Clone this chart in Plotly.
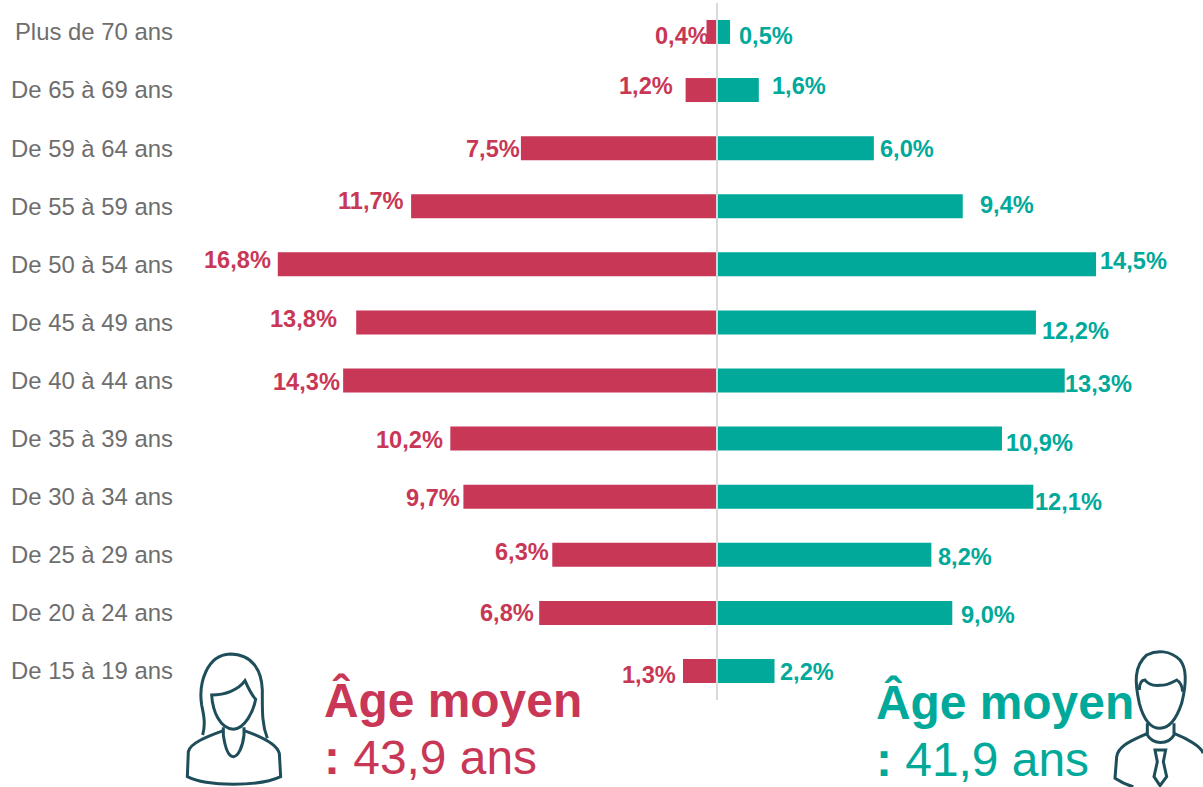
import re
import plotly.graph_objects as go

W, H = 1203, 787
LEFT = 180
age_groups = ["De 15 à 19 ans", "De 20 à 24 ans", "De 25 à 29 ans", "De 30 à 34 ans", "De 35 à 39 ans",
              "De 40 à 44 ans", "De 45 à 49 ans", "De 50 à 54 ans", "De 55 à 59 ans", "De 59 à 64 ans",
              "De 65 à 69 ans", "Plus de 70 ans"]
women = [1.3, 6.8, 6.3, 9.7, 10.2, 14.3, 13.8, 16.8, 11.7, 7.5, 1.2, 0.4]
men = [2.2, 9.0, 8.2, 12.1, 10.9, 13.3, 12.2, 14.5, 9.4, 6.0, 1.6, 0.5]

# hand placement of the value labels in the source (pixels from the bar end)
women_dx = [-6, -4, -2, -2, -6, -2, -18, -6, -6, 0, -12, 3]
women_dy = [-4, 0, 3, -1, -1, -1, 3, 4, 5, -1, 4, -4]
men_dx = [4, 8, 6, 1, 3, -1, 5, 3, 16, 5, 12, 8]
men_dy = [-1, -2, -2, -5, -4, -3, -9, 3, 1, -1, 4, -4]

ROSE, TEAL, GREY, ICON = "#C93756", "#00A99A", "#6E6E6E", "#1F4E5B"
FONT = "Liberation Sans, Arial, sans-serif"


def fr(v):
    return f"{v:.1f}%".replace(".", ",")


def px(x):
    """Picture pixel -> paper x (paper spans the plot area only)."""
    return (x - LEFT) / (W - LEFT)


def path(d, ox, oy):
    """Zoomed-crop coordinates of a decorative icon -> paper coordinates."""
    toks = re.findall(r"[MLCZ]|-?\d+\.?\d*", d)
    out, isx = [], True
    for t in toks:
        if t in "MLCZ":
            out.append(t)
            isx = True
        else:
            v = float(t) / 3
            out.append(f"{px(ox + v):.5f}" if isx else f"{1 - (oy + v) / H:.5f}")
            isx = not isx
    return " ".join(out)


woman_icon = [
    "M 98 285 C 108 250 100 220 95 195 C 85 130 110 45 180 42 C 250 42 275 95 277 150 C 277 210 275 250 292 295",
    "M 125 165 C 165 165 205 150 225 122 C 235 145 245 165 257 178 C 250 215 225 265 190 268 C 150 265 128 215 125 165 Z",
    "M 160 262 L 160 285 C 165 320 175 350 190 350 C 205 350 218 320 222 285 L 222 262",
    "M 160 272 C 110 290 60 310 55 335 L 52 410 C 110 440 270 440 332 410 L 328 340 C 320 310 260 285 222 272",
]
man_icon = [
    "M 838 190 C 825 130 820 80 860 45 C 890 30 930 30 960 60 C 985 90 975 150 965 190 C 950 235 930 265 900 265 C 870 265 850 235 838 190 Z",
    "M 838 150 C 838 130 845 120 855 120 C 865 135 880 138 900 136 C 925 136 940 125 950 120 C 960 125 968 140 968 155",
    "M 862 250 L 862 285 C 880 315 925 315 942 285 L 942 250",
    "M 862 280 C 820 300 775 315 770 350 L 765 415 C 780 425 800 435 820 440",
    "M 942 280 C 980 295 1025 320 1029 340",
    "M 885 330 L 917 330 L 910 365 L 920 410 L 900 437 L 882 410 L 892 365 Z",
]

fig = go.Figure()
fig.add_bar(y=age_groups, x=[-v for v in women], orientation="h", marker=dict(color=ROSE, line_width=0),
            width=0.413, hoverinfo="skip")
fig.add_bar(y=age_groups, x=men, orientation="h", marker=dict(color=TEAL, line_width=0),
            width=0.413, hoverinfo="skip")

ann = []
for g, v, dx, dy in zip(age_groups, women, women_dx, women_dy):
    ann.append(dict(x=-v, y=g, xref="x", yref="y", text=f"<b>{fr(v)}</b>", showarrow=False, xanchor="right",
                    xshift=dx, yshift=dy, borderpad=0, font=dict(family=FONT, size=23.6, color=ROSE)))
for g, v, dx, dy in zip(age_groups, men, men_dx, men_dy):
    ann.append(dict(x=v, y=g, xref="x", yref="y", text=f"<b>{fr(v)}</b>", showarrow=False, xanchor="left",
                    xshift=dx, yshift=dy, borderpad=0, font=dict(family=FONT, size=23.6, color=TEAL)))


def big(x_px, y_px, text, color):
    return dict(x=px(x_px), y=1 - y_px / H, xref="paper", yref="paper", text=text, showarrow=False,
                xanchor="left", yanchor="middle", borderpad=0, font=dict(family=FONT, size=47.9, color=color))


ann += [
    big(323, 700, "<b>Âge moyen</b>", ROSE),
    big(323, 757, "<b>:</b> 43,9 ans", ROSE),
    big(875, 702, "<b>Âge moyen</b>", TEAL),
    big(875, 759, "<b>:</b> 41,9 ans", TEAL),
]

shapes = [dict(type="line", xref="x", yref="y", x0=0, x1=0, y0=-0.5, y1=11.5,
               line=dict(color="#D9D9D9", width=2), layer="above")]
for d in woman_icon:
    shapes.append(dict(type="path", xref="paper", yref="paper", path=path(d, 170, 640),
                       line=dict(color=ICON, width=3)))
for d in man_icon:
    shapes.append(dict(type="path", xref="paper", yref="paper", path=path(d, 860, 640),
                       line=dict(color=ICON, width=3)))

fig.update_layout(
    width=W, height=H, margin=dict(l=LEFT, r=0, t=0, b=0), barmode="overlay", showlegend=False,
    paper_bgcolor="white", plot_bgcolor="white", annotations=ann, shapes=shapes,
    xaxis=dict(range=[-20.54, 18.59], visible=False, fixedrange=True),
    yaxis=dict(type="category", categoryorder="array", categoryarray=age_groups, range=[-1.997, 11.55],
               showgrid=False, zeroline=False, showline=False, ticks="", ticklen=0, ticklabelstandoff=6,
               tickfont=dict(family=FONT, size=23.9, color=GREY)),
)
fig.write_html("out.html", post_script="document.body.style.margin='0';", config={"displayModeBar": False})
